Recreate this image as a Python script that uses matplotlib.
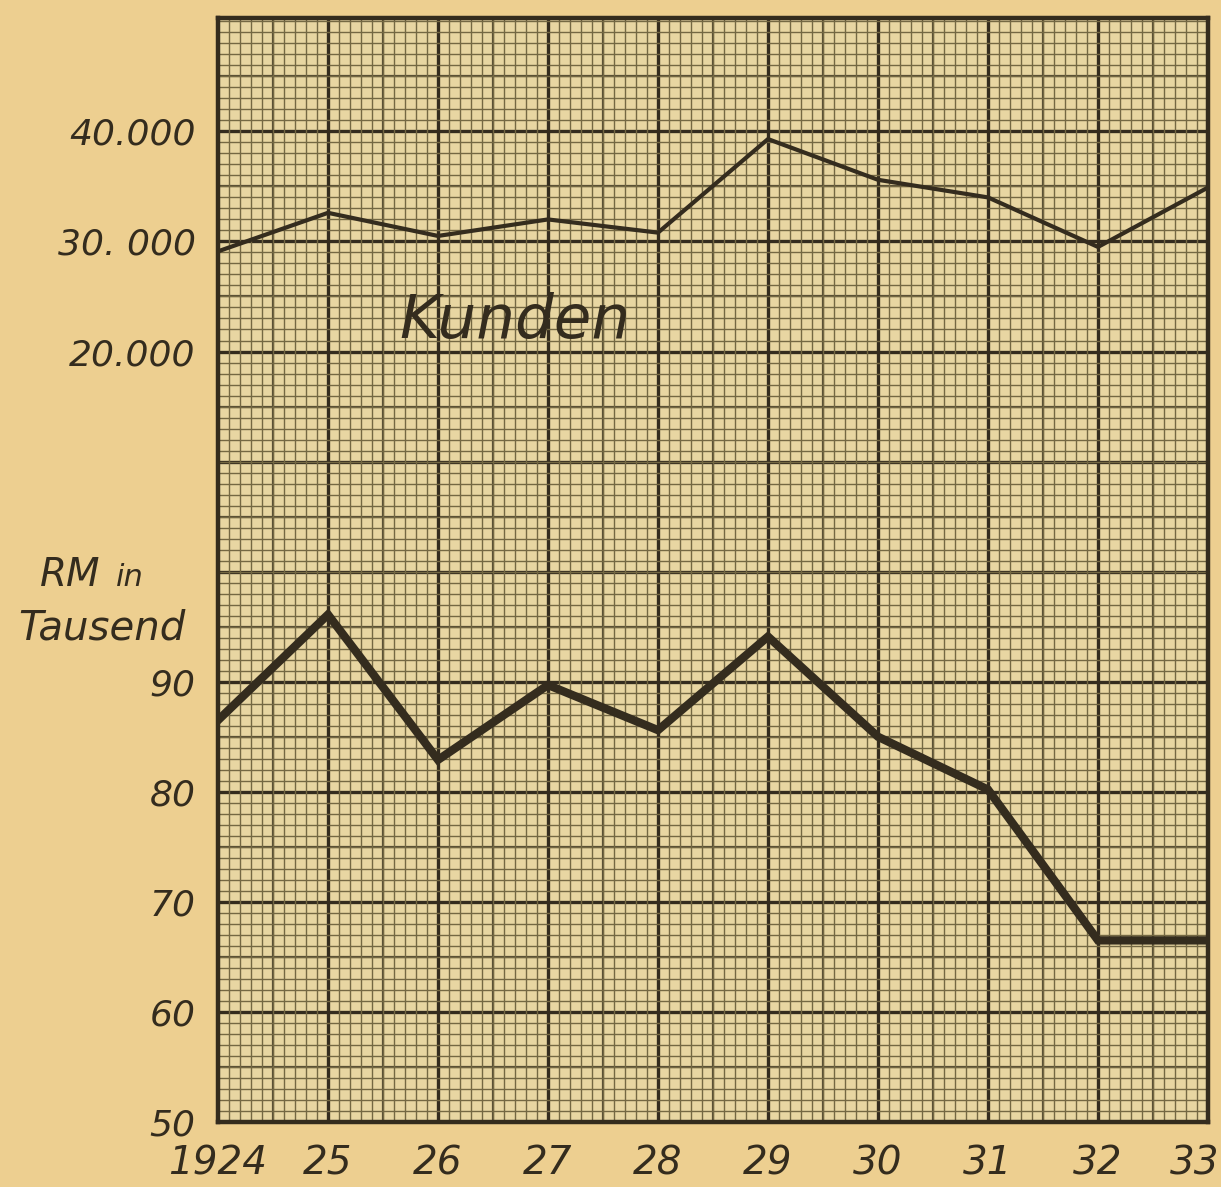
import numpy as np
import matplotlib
matplotlib.use("Agg")
import matplotlib.pyplot as plt
import matplotlib.transforms as mtransforms
from matplotlib.ticker import MultipleLocator, FixedLocator

# ---- data ----
years = [1924, 1925, 1926, 1927, 1928, 1929, 1930, 1931, 1932, 1933]
year_labels = ["1924", "25", "26", "27", "28", "29", "30", "31", "32", "33"]
# Umsatz, RM in Tausend (thick line)
umsatz = [86.5, 96.1, 82.9, 89.7, 85.6, 94.1, 85.0, 80.2, 66.5, 66.5]
# Kunden (thin line), absolute numbers
kunden = [29100, 32600, 30500, 32000, 30800, 39300, 35600, 34000, 29500, 34900]
# Kunden share the axis: 1000 Kunden = 1 unit, offset 100 units
kunden_offset = 100
rm_ticks = [50, 60, 70, 80, 90]
rm_tick_labels = ["50", "60", "70", "80", "90"]
kunden_ticks = [20000, 30000, 40000]
kunden_tick_labels = ["20.000", "30. 000", "40.000"]

paper = "#edcf90"
grid_bg = "#e8d6a2"
ink = "#342c1e"

fig = plt.figure(figsize=(12.21, 11.87), dpi=100, facecolor=paper)
ax = fig.add_axes([218 / 1221, 1 - 1122 / 1187, (1208 - 218) / 1221, (1122 - 18) / 1187])
ax.set_facecolor(grid_bg)
ax.set_xlim(1924, 1933)
ax.set_ylim(50, 150.3)

# graph-paper grid
ax.xaxis.set_major_locator(FixedLocator(years))
ax.xaxis.set_minor_locator(MultipleLocator(0.1))
ax.yaxis.set_minor_locator(MultipleLocator(1))
ax.grid(which="minor", color="#746843", linewidth=1.0, zorder=0)
for xv in np.arange(1924.5, 1933, 1.0):
    ax.axvline(xv, color="#564c33", linewidth=1.6, zorder=0.5)
for yv in np.arange(55, 150, 10):
    ax.axhline(yv, color="#564c33", linewidth=1.6, zorder=0.5)
for xv in years[1:-1]:
    ax.axvline(xv, color=ink, linewidth=2.4, zorder=0.8)
for yv in np.arange(60, 150, 10):
    ax.axhline(yv, color=ink, linewidth=2.4, zorder=0.8)

for sp in ax.spines.values():
    sp.set_color(ink)
    sp.set_linewidth(3.2)

# series
ax.plot(years, umsatz, color=ink, linewidth=6.0, solid_joinstyle="miter", zorder=3)
ax.plot(years, [k / 1000 + kunden_offset for k in kunden], color=ink,
        linewidth=3.0, solid_joinstyle="round", zorder=3)

# ticks
yt = rm_ticks + [k / 1000 + kunden_offset for k in kunden_ticks]
ax.set_yticks(yt)
ax.set_yticklabels(rm_tick_labels + kunden_tick_labels)
ax.set_xticks(years)
ax.set_xticklabels(year_labels)
ax.tick_params(axis="both", which="both", length=0)
ax.tick_params(axis="y", pad=16, labelsize=26, labelcolor=ink)
ax.tick_params(axis="x", pad=16, labelsize=28, labelcolor=ink)
for lab in ax.get_xticklabels() + ax.get_yticklabels():
    lab.set_fontstyle("italic")
    lab.set_fontfamily("DejaVu Sans")

# keep the last year label inside the picture
last = ax.get_xticklabels()[-1]
last.set_horizontalalignment("right")
last.set_transform(last.get_transform() +
                   mtransforms.ScaledTranslation(11 / 100, 0, fig.dpi_scale_trans))

# texts
fig.text(40 / 1221, 1 - 575 / 1187, "RM", fontsize=28, style="italic", color=ink,
         ha="left", va="center")
fig.text(116 / 1221, 1 - 578 / 1187, "in", fontsize=22, style="italic", color=ink,
         ha="left", va="center")
fig.text(102 / 1221, 1 - 628 / 1187, "Tausend", fontsize=29, style="italic", color=ink,
         ha="center", va="center")
ax.text(1925.65, 122.7, "Kunden", fontsize=44, style="italic", color=ink,
        ha="left", va="center", zorder=4)

fig.savefig("out.png", dpi=100, facecolor=paper)
